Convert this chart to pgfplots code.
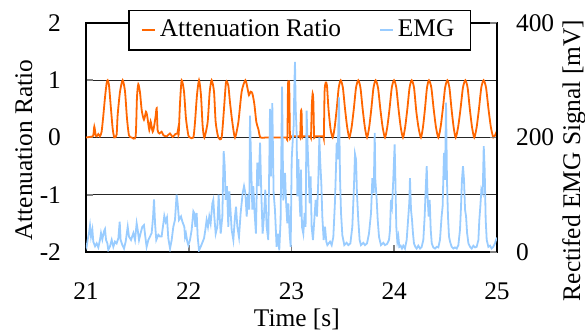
\documentclass[border=0pt]{standalone}
\usepackage{fontspec}
\setmainfont{Liberation Serif}
\usepackage{pgfplots}
\pgfplotsset{compat=1.18}
\usetikzlibrary{calc}

\definecolor{attn}{RGB}{255,102,0}
\definecolor{emgc}{RGB}{153,204,255}

% Attenuation ratio (dimensionless)
\pgfplotstableread{
t v
21.000 0.00
21.040 0.01
21.070 0.03
21.081 0.19
21.095 0.03
21.104 0.02
21.120 0.06
21.135 0.02
21.152 0.10
21.169 0.39
21.185 0.70
21.201 0.95
21.211 1.00
21.224 0.91
21.243 0.50
21.260 0.15
21.276 0.00
21.298 0.05
21.308 0.39
21.331 0.80
21.357 1.00
21.380 0.80
21.399 0.33
21.418 0.04
21.444 0.00
21.483 0.02
21.496 0.70
21.509 0.93
21.526 0.78
21.542 0.48
21.564 0.31
21.584 0.45
21.597 0.36
21.616 0.13
21.629 0.28
21.649 0.10
21.665 0.22
21.678 0.38
21.688 0.51
21.697 0.13
21.714 0.07
21.736 0.10
21.753 0.04
21.785 0.02
21.817 0.07
21.843 0.01
21.870 0.06
21.889 0.07
21.896 0.14
21.902 0.05
21.915 0.60
21.931 1.00
21.954 0.80
21.973 0.33
21.996 0.04
22.012 0.00
22.045 0.00
22.061 0.27
22.080 0.74
22.100 1.00
22.119 0.74
22.135 0.21
22.152 0.00
22.184 0.27
22.204 0.80
22.223 1.00
22.246 0.80
22.262 0.27
22.288 0.00
22.320 0.00
22.343 0.50
22.363 0.97
22.385 0.91
22.401 0.62
22.424 0.27
22.450 0.00
22.483 0.27
22.515 0.80
22.551 1.00
22.573 0.85
22.586 0.74
22.603 0.80
22.619 0.77
22.638 0.59
22.658 0.27
22.677 0.15
22.697 0.00
22.750 0.00
22.800 0.00
22.850 0.00
22.900 0.00
22.950 0.00
22.960 0.00
22.966 0.90
22.972 0.97
22.978 0.90
22.985 0.02
22.995 0.02
23.040 0.02
23.080 0.02
23.085 0.02
23.092 0.44
23.098 0.44
23.103 0.02
23.110 0.02
23.150 0.02
23.185 0.02
23.190 0.02
23.198 0.56
23.206 0.77
23.213 0.62
23.220 0.02
23.230 0.02
23.270 0.02
23.310 0.02
23.315 0.02
23.322 0.80
23.333 0.96
23.345 0.91
23.360 0.50
23.380 0.15
23.401 0.00
23.4205 0.18
23.440 0.50
23.4595 0.87
23.479 1.00
23.500 0.87
23.521 0.50
23.542 0.18
23.563 0.00
23.585 0.18
23.6065 0.50
23.628 0.87
23.650 1.00
23.671 0.87
23.6925 0.50
23.714 0.18
23.735 0.00
23.756 0.18
23.777 0.50
23.798 0.87
23.819 1.00
23.842 0.87
23.8645 0.50
23.887 0.18
23.910 0.00
23.932 0.18
23.954 0.50
23.976 0.87
23.998 1.00
24.020 0.87
24.0415 0.50
24.063 0.18
24.085 0.00
24.106 0.18
24.1275 0.50
24.149 0.87
24.170 1.00
24.1925 0.87
24.215 0.45
24.2375 0.16
24.260 0.00
24.2795 0.18
24.299 0.50
24.3185 0.87
24.338 1.00
24.361 0.87
24.3835 0.50
24.406 0.18
24.429 0.00
24.451 0.18
24.473 0.50
24.495 0.87
24.517 1.00
24.537 0.87
24.5575 0.50
24.578 0.18
24.598 0.00
24.6215 0.18
24.645 0.50
24.6685 0.87
24.692 1.00
24.714 0.87
24.7355 0.50
24.757 0.18
24.779 0.00
24.802 0.18
24.8245 0.50
24.847 0.87
24.870 1.00
24.8935 0.87
24.917 0.50
24.9405 0.18
24.964 0.00
24.982 0.04
25.000 0.12
}\attntable

% Rectified EMG signal in mV
\pgfplotstableread{
t mv
21.000 12
21.006 9
21.016 21
21.029 33
21.039 46
21.049 27
21.062 39
21.071 18
21.088 10
21.104 15
21.120 8
21.136 21
21.146 33
21.159 22
21.175 36
21.185 40
21.195 21
21.208 15
21.217 4
21.234 10
21.250 21
21.266 9
21.282 18
21.298 15
21.315 24
21.328 53
21.337 21
21.354 12
21.370 6
21.386 18
21.406 44
21.418 27
21.438 21
21.461 33
21.477 21
21.493 50
21.503 39
21.516 21
21.532 33
21.548 44
21.564 47
21.577 27
21.590 9
21.607 21
21.623 27
21.639 33
21.652 59
21.662 92
21.672 50
21.684 21
21.704 30
21.720 27
21.736 27
21.753 50
21.762 63
21.775 53
21.788 60
21.801 24
21.818 6
21.834 21
21.850 44
21.866 56
21.882 100
21.892 85
21.905 56
21.925 62
21.938 53
21.957 44
21.964 26
21.973 32
21.986 18
21.996 12
22.012 21
22.028 38
22.045 71
22.054 68
22.064 44
22.077 68
22.087 26
22.100 3
22.116 9
22.136 18
22.149 24
22.161 38
22.174 56
22.187 44
22.200 62
22.213 50
22.230 85
22.239 91
22.249 62
22.262 32
22.278 44
22.291 100
22.301 62
22.311 32
22.327 62
22.340 176
22.350 150
22.359 91
22.372 115
22.385 44
22.395 106
22.408 68
22.418 38
22.434 21
22.450 62
22.460 79
22.473 44
22.489 26
22.505 68
22.525 103
22.538 115
22.551 103
22.564 62
22.577 100
22.589 74
22.596 238
22.606 162
22.619 74
22.628 115
22.641 68
22.654 32
22.667 156
22.680 115
22.694 191
22.706 103
22.719 32
22.732 62
22.745 109
22.758 44
22.774 21
22.791 250
22.800 132
22.813 260
22.826 103
22.839 74
22.855 9
22.868 32
22.881 3
22.894 56
22.908 289
22.920 90
22.937 138
22.946 91
22.959 50
22.969 85
22.982 32
22.992 9
23.002 162
23.011 191
23.021 220
23.028 291
23.034 332
23.041 250
23.050 209
23.057 97
23.067 162
23.076 103
23.086 62
23.092 144
23.102 44
23.115 32
23.128 68
23.137 44
23.147 247
23.157 185
23.167 138
23.177 85
23.186 132
23.196 44
23.209 21
23.222 56
23.235 91
23.248 62
23.261 126
23.271 200
23.280 156
23.290 121
23.300 62
23.313 21
23.326 44
23.339 18
23.349 12
23.362 15
23.375 18
23.391 12
23.407 26
23.424 91
23.440 191
23.449 162
23.462 270
23.472 132
23.482 68
23.495 29
23.514 12
23.537 16
23.553 12
23.573 15
23.592 44
23.608 115
23.618 171
23.628 162
23.637 103
23.650 56
23.663 21
23.676 12
23.699 16
23.715 12
23.735 15
23.754 32
23.774 68
23.787 129
23.800 103
23.810 208
23.816 126
23.829 91
23.839 56
23.852 26
23.871 12
23.894 16
23.910 12
23.930 14
23.949 21
23.959 39
23.968 91
23.978 80
23.988 115
23.998 161
24.004 188
24.011 126
24.020 44
24.030 18
24.040 27
24.049 9
24.062 11
24.075 6
24.088 11
24.104 6
24.121 21
24.137 62
24.147 88
24.153 129
24.163 74
24.173 56
24.182 33
24.192 15
24.205 9
24.218 6
24.234 11
24.251 6
24.267 9
24.283 21
24.296 62
24.306 109
24.316 150
24.325 94
24.335 62
24.345 91
24.355 39
24.365 15
24.380 8
24.397 6
24.413 9
24.429 8
24.445 21
24.461 62
24.471 80
24.484 173
24.494 126
24.504 261
24.513 126
24.523 62
24.533 27
24.543 18
24.559 9
24.575 6
24.591 8
24.608 6
24.624 12
24.640 39
24.650 80
24.659 126
24.669 150
24.679 126
24.689 74
24.699 62
24.709 33
24.722 15
24.738 9
24.754 6
24.770 11
24.786 8
24.802 9
24.819 21
24.828 56
24.838 80
24.848 109
24.861 103
24.871 185
24.880 144
24.890 56
24.900 21
24.916 9
24.932 11
24.948 6
24.964 9
24.981 15
24.990 21
25.000 25
}\emgtable

\pgfplotsset{
  twinaxis/.style={
    scale only axis,
    width=205.5pt, height=114.5pt,
    xmin=21, xmax=25,
    font=\fontsize{12.7}{15}\selectfont,
    tick align=inside,
    major tick length=3.5pt,
    tick style={gray, line width=0.8pt},
    axis line style={line width=0.8pt},
  }
}

\begin{document}
\begin{tikzpicture}
\begin{axis}[twinaxis,
  ymin=-2, ymax=2,
  xtick={21,22,23,24,25}, xticklabels={21,22,23,24,25},
  ytick={-2,-1,0,1,2}, yticklabels={-2,-1,0,1,2},
  xtick pos=bottom, ytick pos=left,
  ymajorgrids, grid style={black!85, line width=0.6pt},
  xticklabel style={yshift=-12pt},
  yticklabel style={xshift=-9pt},
  xlabel={Time [s]},
  xlabel style={at={(rel axis cs:0.513,-0.295)}, anchor=center},
  ylabel={Attenuation Ratio},
  ylabel style={at={(rel axis cs:-0.151,0.445)}, anchor=center},
]
\addplot[attn, line width=0.9pt, smooth, tension=0.4] table[x=t, y=v] {\attntable};
\coordinate (bl) at (rel axis cs:0,0);
\coordinate (tr) at (rel axis cs:1,1);
\end{axis}

\begin{axis}[twinaxis,
  axis x line=none,
  axis y line*=right,
  ymin=0, ymax=400,
  ytick={0,200,400}, yticklabels={0,200,400},
  yticklabel style={xshift=6pt},
  ylabel={Rectifed EMG Signal [mV]},
  ylabel style={at={(rel axis cs:1.187,0.40)}, anchor=center},
  legend columns=2,
  legend cell align=left,
  legend image code/.code={\draw[#1] (0pt,0pt) -- (6.5pt,0pt);},
  legend style={at={(0.52,0.969)}, anchor=center, draw=black,
    line width=0.6pt, fill=white, inner xsep=6pt, inner ysep=3pt,
    font=\fontsize{12.7}{15}\selectfont,
    /tikz/every even column/.append style={column sep=17pt}},
]
\addlegendimage{attn, line width=0.9pt}
\addlegendentry{Attenuation Ratio}
\addplot[emgc, line width=0.9pt] table[x=t, y=mv] {\emgtable};
\addlegendentry{EMG}
\end{axis}

\pgfresetboundingbox
\path ($(bl)+(-43pt,-40.5pt)$) rectangle ($(tr)+(44pt,11.5pt)$);
\end{tikzpicture}
\end{document}
